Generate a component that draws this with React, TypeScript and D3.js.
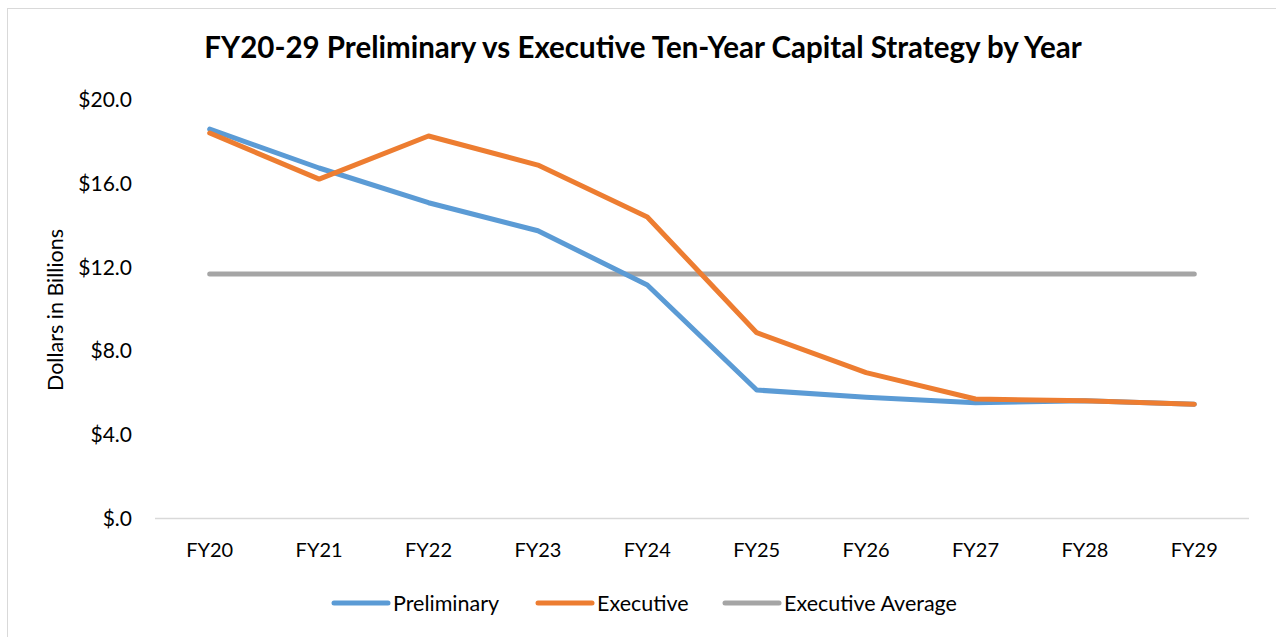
import { useEffect, useRef } from 'react';
import * as d3 from 'd3';

const years = ['FY20', 'FY21', 'FY22', 'FY23', 'FY24', 'FY25', 'FY26', 'FY27', 'FY28', 'FY29'];
const preliminary = [18.61, 16.75, 15.09, 13.75, 11.16, 6.14, 5.79, 5.53, 5.63, 5.46];
const executive = [18.42, 16.22, 18.28, 16.89, 14.41, 8.88, 6.97, 5.71, 5.63, 5.46];
const executiveAverage = [11.68, 11.68, 11.68, 11.68, 11.68, 11.68, 11.68, 11.68, 11.68, 11.68];
const yTicks = [0, 4, 8, 12, 16, 20];

const seriesNames = ['Preliminary', 'Executive', 'Executive Average'];
const seriesColors = ['#5b9bd5', '#ed7d31', '#a5a5a5'];

const FONT = 'Lato, "Open Sans", sans-serif';

const App = () => {
  const ref = useRef<SVGSVGElement>(null);

  useEffect(() => {
    const svg = d3.select(ref.current);
    svg.selectAll('*').remove();

    const width = 1276;
    const height = 637;
    const left = 155;
    const right = 1249;
    const top = 100;
    const bottom = 518.5;

    svg.attr('width', width).attr('height', height);

    svg.append('rect')
      .attr('x', 7.5).attr('y', 8.5)
      .attr('width', width + 10).attr('height', height + 10)
      .attr('fill', '#fff')
      .attr('stroke', '#d9d9d9');

    svg.append('text')
      .attr('x', 643)
      .attr('y', 58)
      .attr('text-anchor', 'middle')
      .style('font-family', FONT)
      .style('font-size', '29.5px')
      .style('font-weight', 'bold')
      .text('FY20-29 Preliminary vs Executive Ten-Year Capital Strategy by Year');

    const x = d3.scaleBand().domain(years).range([left, right]);
    const y = d3.scaleLinear().domain([0, 20]).range([bottom, top]);

    // y tick labels
    svg.append('g')
      .selectAll('text')
      .data(yTicks)
      .enter()
      .append('text')
      .attr('x', 132)
      .attr('y', (d) => y(d))
      .attr('dy', '0.35em')
      .attr('text-anchor', 'end')
      .style('font-family', FONT)
      .style('font-size', '21px')
      .attr('fill', '#000')
      .text((d) => (d === 0 ? '$.0' : '$' + d.toFixed(1)));

    // x axis line
    svg.append('line')
      .attr('x1', left).attr('x2', right)
      .attr('y1', bottom).attr('y2', bottom)
      .attr('stroke', '#d9d9d9')
      .attr('stroke-width', 1.5);

    svg.append('g')
      .selectAll('text')
      .data(years)
      .enter()
      .append('text')
      .attr('x', (d) => x(d)! + x.bandwidth() / 2)
      .attr('y', 557)
      .attr('text-anchor', 'middle')
      .style('font-family', FONT)
      .style('font-size', '20px')
      .text((d) => d);

    svg.append('text')
      .attr('transform', 'translate(63,310) rotate(-90)')
      .attr('text-anchor', 'middle')
      .style('font-family', FONT)
      .style('font-size', '21.5px')
      .text('Dollars in Billions');

    const line = d3.line<number>()
      .x((_, i) => x(years[i])! + x.bandwidth() / 2)
      .y((d) => y(d));

    const allSeries = [preliminary, executive, executiveAverage];
    [2, 0, 1].forEach((k) => {
      svg.append('path')
        .datum(allSeries[k])
        .attr('d', line)
        .attr('fill', 'none')
        .attr('stroke', seriesColors[k])
        .attr('stroke-width', 5)
        .attr('stroke-linejoin', 'round')
        .attr('stroke-linecap', 'round');
    });

    // legend
    const legendX = [334, 538, 725];
    const legend = svg.append('g')
      .selectAll('g')
      .data(seriesNames)
      .enter()
      .append('g')
      .attr('transform', (_, i) => `translate(${legendX[i]},603)`);

    legend.append('line')
      .attr('x1', 0).attr('x2', 54)
      .attr('stroke', (_, i) => seriesColors[i])
      .attr('stroke-width', 5)
      .attr('stroke-linecap', 'round');

    legend.append('text')
      .attr('x', 59)
      .attr('dy', '0.35em')
      .style('font-family', FONT)
      .style('font-size', '21.5px')
      .text((d) => d);
  }, []);

  return <svg ref={ref} style={{ position: 'absolute', left: 0, top: 0, display: 'block' }}></svg>;
};

export default App;
